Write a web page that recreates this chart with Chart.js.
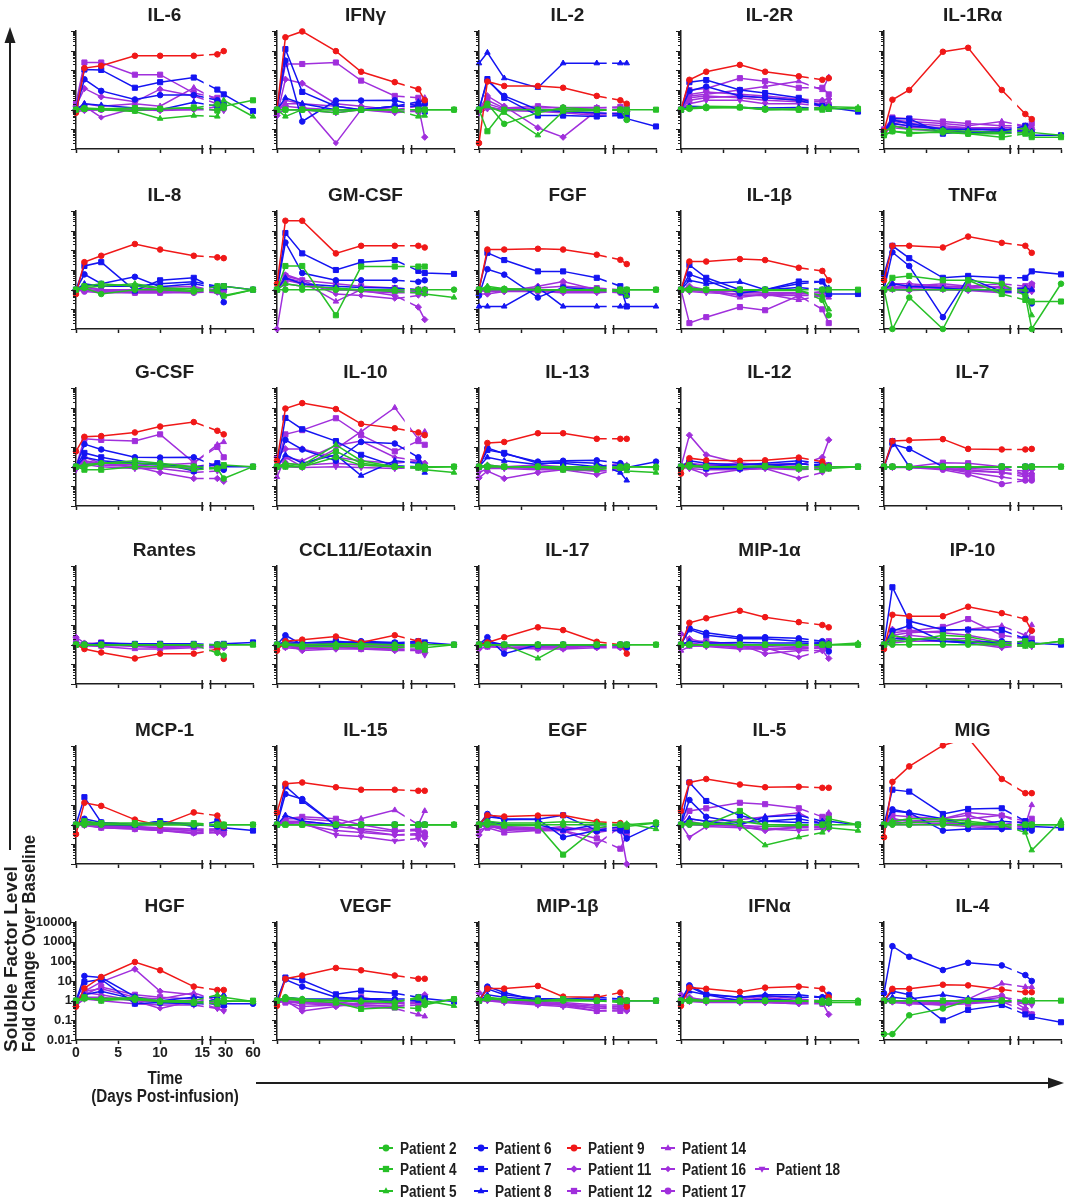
<!DOCTYPE html>
<html>
<head>
<meta charset="utf-8">
<script src="https://cdn.jsdelivr.net/npm/chart.js@4.4.1/dist/chart.umd.min.js"></script>
<style>
  body { margin: 0; background: #fff; }
  #fig { position: relative; width: 1067px; height: 1200px; background: #fff; overflow: hidden; }
  #fig canvas { position: absolute; }
  #overlay { position: absolute; left: 0; top: 0; pointer-events: none; }
</style>
</head>
<body>
<div id="fig">
  <svg id="overlay" width="1067" height="1200"></svg>
</div>
<script>
// sample days; the axis is broken after day 15
const days = [0, 1, 3, 7, 10, 14, 21, 28, 60];
const xTicks = [0, 5, 10, 15, 30, 60];

const patients = ['Patient 2', 'Patient 4', 'Patient 5', 'Patient 6', 'Patient 7', 'Patient 8', 'Patient 9',
  'Patient 11', 'Patient 12', 'Patient 14', 'Patient 16', 'Patient 17', 'Patient 18'];

const factors = ['IL-6', 'IFNγ', 'IL-2', 'IL-2R', 'IL-1Rα',
  'IL-8', 'GM-CSF', 'FGF', 'IL-1β', 'TNFα',
  'G-CSF', 'IL-10', 'IL-13', 'IL-12', 'IL-7',
  'Rantes', 'CCL11/Eotaxin', 'IL-17', 'MIP-1α', 'IP-10',
  'MCP-1', 'IL-15', 'EGF', 'IL-5', 'MIG',
  'HGF', 'VEGF', 'MIP-1β', 'IFNα', 'IL-4'];

// fold change over baseline, one row per patient (order as in `patients`), one column per day
const il6 = [
  [1, 1.2, 1.1, 0.9, 1.1, 1.2, 1.9, 1.2, null],
  [1, 1.1, 1.1, 1.2, 1.1, 1.3, 0.9, 1.5, 3],
  [1, 1.1, 1, 0.8, 0.35, 0.5, 0.45, 3, 0.45],
  [1, 35, 9, 3.3, 5.5, 5.5, 3, 2, null],
  [1, 110, 105, 13, 25, 43, 10.5, 6, 0.85],
  [1, 2, 1.7, 1.2, 1, 2.4, 1.5, 2.5, null],
  [0.7, 130, 170, 550, 550, 550, 650, 950, null],
  [1.5, 12, 4.5, 2.5, 11, 5, 2, 1.5, null],
  [2, 250, 250, 60, 60, 7, 4, 2, null],
  [1, 2, 1.5, 2, 1.5, 13, 3, 2, null],
  [1, 1.5, 0.4, 1.2, 1.1, 1, 1.4, 1.2, null],
  [1, 1, 1, 0.9, 1, 1.1, 1, 1.1, null],
  [0.8, 0.9, 1, 1, 0.9, 1, 1, 0.9, null]
];
const ifng = [
  [1, 1, 1, 1, 1, 1, null, 1, 1],
  [1, 1, 1, 1, 1, 1, 1, 1, 1],
  [1, 0.45, 1, 0.7, 1, 1, 0.45, 0.5, null],
  [1, 310, 0.25, 2.9, 2.9, 3, 1.5, 2, null],
  [1, 1200, 8, 1.5, 1, 1.5, 1.5, 0.8, null],
  [1, 4, 2, 1, 1, 1.5, 2.5, 3, null],
  [1, 4800, 9500, 950, 85, 25, 11, 3, null],
  [0.5, 35, 22, 2, 1.5, 1, 1.5, 0.04, null],
  [1, 210, 210, 250, 30, 5, 4, 2, null],
  [1, 2, 2, 1.5, 1, 1.5, 2, 4, null],
  [1, 3, 2, 0.02, 1, 1, 1, 1, null],
  [1, 1.5, 1.2, 1, 1, 0.8, 0.8, 1, null],
  [0.6, 1, 1, 0.7, 1, 0.7, 0.9, 0.8, null]
];
const il2 = [
  [1, 2, 0.19, 0.7, 1.3, 1, 1, 0.3, null],
  [1, 0.08, 1, 1, 1, 1, 1, 1, 1],
  [1, 1.5, 0.7, 0.05, 0.8, 0.9, 1, 0.7, null],
  [1, 30, 5, 1, 0.8, 0.7, 0.6, 0.6, null],
  [1, 36, 4, 0.5, 0.5, 0.45, 0.5, 0.35, 0.14],
  [230, 800, 40, 13, 230, 230, 230, 230, null],
  [0.02, 27, 16, 16, 13, 5, 3, 2, null],
  [1, 5, 1.5, 0.12, 0.04, 0.9, 1, 0.8, null],
  [1, 3, 1.2, 1.5, 1.2, 1.2, 1.4, 1.3, null],
  [1, 2, 1.1, 1.2, 1.3, 1.3, 1.2, 1, null],
  [1, 1.5, 0.9, 0.8, 0.7, 0.5, 0.6, 0.5, null],
  [1, 1.3, 1, 1, 1, 0.9, 1, 0.8, null],
  [0.7, 1.1, 1, 1, 0.8, 0.6, 0.7, 0.9, null]
];
const il2r = [
  [1, 1.1, 1.2, 1.3, 1, 1, 1.1, 1.2, null],
  [1, 1.2, 1.3, 1.3, 1.1, 1, 1, 1.1, 1.1],
  [1, 1.2, 1.5, 1.4, 1, 1.1, 1.3, 1.4, 1.3],
  [1, 9, 15, 5, 4, 3, 1.5, 1.2, null],
  [1, 25, 32, 10, 7, 4, 1.5, 1.3, 0.8],
  [1, 1.5, 1.4, 1.3, 1.2, 1.3, 1.2, 1, null],
  [1, 33, 85, 190, 85, 50, 33, 40, null],
  [1, 6, 8, 6, 5, 3.5, 3, 3.5, null],
  [1, 10, 12, 40, 28, 13, 13, 6, null],
  [1, 5, 6, 10, 15, 28, 10, 45, null],
  [1, 4, 5, 4, 3, 2.5, 2, 1.5, null],
  [1, 3, 4, 5, 4, 3, 2.5, 2, null],
  [1, 2, 3, 3, 2, 2, 1.5, 1.5, null]
];
const il1ra = [
  [0.05, 0.08, 0.07, 0.07, 0.06, 0.06, 0.07, 0.05, null],
  [0.05, 0.08, 0.06, 0.08, 0.06, 0.04, 0.06, 0.04, 0.04],
  [0.07, 0.15, 0.1, 0.09, 0.08, 0.07, 0.12, 0.07, 0.05],
  [0.07, 0.3, 0.2, 0.1, 0.07, 0.07, 0.07, 0.07, null],
  [0.08, 0.35, 0.35, 0.06, 0.08, 0.08, 0.15, 0.05, 0.05],
  [0.07, 0.2, 0.15, 0.1, 0.1, 0.1, 0.08, 0.08, null],
  [0.085, 3.2, 10, 880, 1400, 10, 0.6, 0.33, null],
  [0.08, 0.2, 0.15, 0.12, 0.12, 0.08, 0.1, 0.1, null],
  [0.1, 0.4, 0.35, 0.25, 0.2, 0.15, 0.15, 0.2, null],
  [0.1, 0.3, 0.25, 0.2, 0.15, 0.25, 0.15, 0.15, null],
  [0.08, 0.25, 0.2, 0.15, 0.12, 0.12, 0.12, 0.1, null],
  [0.08, 0.15, 0.12, 0.12, 0.1, 0.1, 0.1, 0.09, null],
  [0.07, 0.12, 0.1, 0.08, 0.08, 0.07, 0.08, 0.08, null]
];
const il8 = [
  [1, 1.2, 0.6, 1, 1, 0.8, 1, 0.5, 1],
  [1, 1.5, 2, 1.5, 1.2, 0.9, 1.5, 1.5, 1],
  [1, 1.3, 1.5, 2, 1.2, 1.1, 0.8, 0.45, 1],
  [1, 6, 2, 4.5, 1.4, 2, 1.2, 0.23, null],
  [1, 16, 25, 0.9, 3, 4, 1, 1.5, 1],
  [1, 2, 1.5, 1.5, 2, 2.5, 1.5, 1.2, null],
  [0.6, 25, 53, 210, 110, 53, 44, 40, null],
  [1, 1.5, 1, 0.8, 1, 1.2, 1, 1, null],
  [1, 1, 0.8, 0.7, 0.7, 0.8, 0.9, 1.5, null],
  [1, 1.2, 1, 1, 1.3, 1.5, 0.8, 1, null],
  [1, 0.9, 0.8, 0.8, 0.9, 0.8, 0.7, 0.9, null],
  [1, 0.8, 0.7, 0.7, 0.7, 0.7, 0.8, 0.8, null],
  [1, 1, 0.9, 0.8, 0.8, 0.7, 0.9, 0.8, null]
];
const gmcsf = [
  [1, 1, 1, 1, 1, 1, 1, 1, 1],
  [1, 16, 16, 0.05, 15, 15, 15, 15, null],
  [1, 2, 1.5, 1.2, 1, 0.8, 0.7, 0.6, 0.4],
  [1, 250, 7, 3, 3, 3, 2.5, 3, null],
  [1, 760, 70, 10, 25, 32, 9, 7, 6.3],
  [1, 4, 2, 1.5, 1.3, 1.2, 1, 1, null],
  [2, 3200, 3200, 70, 170, 170, 170, 140, null],
  [0.01, 3.5, 2, 1, 0.9, 0.5, 0.13, 0.03, null],
  [1, 5, 3, 2, 1.5, 1.2, 1, 1, null],
  [1, 4, 2.5, 0.25, 1, 0.8, 1, 0.7, null],
  [1, 6, 3, 0.6, 0.5, 0.35, 0.5, 0.6, null],
  [1, 3, 2, 1, 1, 0.9, 0.8, 0.8, null],
  [1, 2, 1.5, 1.2, 0.8, 0.7, 0.7, 0.6, null]
];
const fgf = [
  [1, 1.2, 1.1, 1, 1, 1, 1, 1, 1],
  [1, 1, 1, 1, 1, 1, 1, 1, 1],
  [1, 1.5, 1.1, 1, 1, 0.9, 0.8, 0.5, null],
  [0.5, 11, 5.8, 0.4, 1.3, 1, 0.8, 0.5, null],
  [1, 75, 32, 8.5, 8.5, 4, 1.5, 0.14, null],
  [0.14, 0.14, 0.14, 1.3, 0.14, 0.14, 0.14, 0.14, 0.14],
  [1, 110, 110, 120, 110, 60, 33, 20, null],
  [0.6, 0.6, 0.8, 1.5, 2.6, 1, 0.8, 0.6, null],
  [1, 1, 1, 1.2, 1.5, 1.2, 1, 0.8, null],
  [1, 0.8, 0.9, 0.9, 0.8, 0.8, 0.9, 0.9, null],
  [1, 1.1, 1, 0.9, 0.9, 1, 0.9, 0.8, null],
  [1, 0.9, 0.9, 0.8, 0.8, 0.8, 0.7, 0.7, null],
  [0.9, 0.8, 0.8, 0.8, 0.7, 0.7, 0.8, 0.8, null]
];
const il1b = [
  [1, 1, 1, 1, 1, 1, 0.3, 0.05, null],
  [1, 1, 1, 1, 1, 1, 1, 1, 1],
  [1, 1.2, 1, 1, 0.9, 0.9, 0.5, 0.1, null],
  [1, 6, 3, 0.65, 1, 1.3, 1, 0.6, null],
  [1, 18, 4, 1, 1, 2.6, 2.6, 0.6, 0.6],
  [1, 3, 2, 2.5, 1, 2, 2.5, 1.2, null],
  [1, 27, 27, 36, 32, 13, 9, 3, null],
  [1, 1.5, 1, 0.5, 0.5, 0.5, 0.5, 0.5, null],
  [1, 0.02, 0.04, 0.13, 0.09, 0.5, 0.1, 0.02, null],
  [1, 1.2, 0.9, 0.4, 0.6, 0.3, 0.5, 0.4, null],
  [1, 0.9, 0.8, 0.8, 0.7, 0.6, 0.8, 0.9, null],
  [1, 1, 0.9, 0.8, 0.7, 0.7, 0.7, 0.8, null],
  [1, 0.8, 0.7, 0.6, 0.6, 0.5, 0.6, 0.7, null]
];
const tnfa = [
  [1, 0.01, 0.4, 0.01, 3, 2, 0.5, 0.01, 2],
  [1, 4, 5, 3, 3, 0.6, 0.3, 0.25, 0.25],
  [1, 1, 1, 1, 1, 1, 1, 0.05, null],
  [1, 80, 16, 0.04, 4, 0.8, 0.7, 0.2, null],
  [6, 170, 40, 4, 5, 4, 4, 8.5, 6],
  [1, 2, 1.5, 1.2, 1, 1, 1.2, 1, null],
  [3, 170, 170, 140, 500, 240, 170, 75, null],
  [1, 2, 2, 1.5, 1.5, 1.2, 1.2, 2, null],
  [1, 1.5, 1.5, 2, 1.5, 2, 1.5, 1.8, null],
  [1, 1.2, 1.3, 1.5, 1.2, 1.5, 1, 1.5, null],
  [1, 1.3, 1.2, 1.3, 1.1, 0.9, 0.8, 1, null],
  [1, 1.1, 1, 1.1, 1, 0.8, 0.9, 0.9, null],
  [1, 1, 0.9, 1, 0.9, 0.7, 0.7, 0.8, null]
];
const gcsf = [
  [1, 1, 1.5, 2, 1.5, 1, 0.8, 0.25, 1],
  [1, 0.7, 0.7, 1, 1, 1, 0.8, 1.2, 1],
  [1, 1.3, 1.5, 1.5, 1.3, 0.7, 0.8, 1, null],
  [1, 14, 7.5, 3, 2.9, 3, 1, 0.7, null],
  [1, 5, 3, 1.5, 1.5, 0.6, 1.5, 1, 1],
  [1, 3, 2, 1.5, 1.2, 1, 1.2, 1, null],
  [6, 33, 36, 55, 110, 185, 67, 44, null],
  [1, 3, 1.5, 1, 0.5, 0.25, 0.25, 0.18, null],
  [1, 26, 23, 20, 44, 1.6, 10, 3, null],
  [1, 2, 1.5, 1.5, 1.2, 1.5, 13, 18, null],
  [1, 1.8, 1.5, 1.2, 1, 1, 1.5, 1, null],
  [1, 1.5, 1.2, 1, 1, 0.8, 1, 0.8, null],
  [0.7, 1.3, 1, 0.8, 0.8, 0.5, 0.6, 0.7, null]
];
const il10 = [
  [1, 1.2, 1, 3, 1.2, 1, 1, 1, 1],
  [1, 1, 1, 6, 1.5, 1, 1, 0.9, 1],
  [1, 1.5, 1.2, 13, 2, 1, 0.8, 0.7, 0.5],
  [1, 23, 7.5, 2, 18, 15, 3, 0.8, null],
  [1, 300, 80, 20, 4, 1.1, 1, 0.9, null],
  [1, 4, 1.5, 4, 0.35, 2, 1.5, 0.5, null],
  [2, 900, 1700, 850, 150, 90, 55, 40, null],
  [3, 8, 8, 3, 2, 1.5, 2, 1.5, null],
  [1, 44, 72, 290, 40, 6, 20, 13, null],
  [0.3, 3, 1, 8, 60, 1000, 25, 60, null],
  [1, 3, 2, 12, 20, 3, 2, 1.5, null],
  [1, 1.5, 1.2, 1.5, 1.2, 1, 1, 1, null],
  [1, 1, 0.9, 1, 0.9, 0.8, 0.9, 0.9, null]
];
const il13 = [
  [1, 1, 1, 1, 0.8, 0.9, 1, 1, 1],
  [1, 1, 1, 1, 0.7, 0.7, 0.9, 1, 0.9],
  [1, 1.2, 1, 1, 1, 1, 0.8, 0.6, 0.5],
  [1, 9, 4.5, 1.8, 2, 2.1, 1.5, 0.9, 1.8],
  [1, 7, 5, 1.5, 1.5, 1, 1.2, 1, null],
  [1, 3, 2, 1.3, 1.8, 1.5, 0.5, 0.2, null],
  [1, 16, 18, 50, 50, 26, 26, 26, null],
  [0.27, 0.6, 0.25, 0.5, 0.7, 0.4, 0.8, 1, null],
  [1, 1, 1, 1.2, 1, 0.8, 1, 0.9, null],
  [1, 1.2, 1, 1, 0.9, 1, 1.5, 1.2, null],
  [1, 0.9, 0.9, 0.8, 0.8, 0.6, 0.7, 0.8, null],
  [1, 1, 1, 0.9, 0.9, 0.8, 0.9, 0.9, null],
  [0.5, 0.8, 0.8, 0.7, 0.7, 0.6, 0.7, 0.7, null]
];
const il12 = [
  [1, 1, 1, 1, 1, 1, 1, 1, 1],
  [1, 1.2, 1, 1, 1.1, 0.8, 0.7, 0.8, 1],
  [1, 1.1, 1, 1, 1, 1, 1, 1, null],
  [1, 2, 1.5, 1.2, 1.5, 2, 1.5, 1, null],
  [1, 1.5, 0.8, 0.8, 1, 1.5, 1, 1, 1],
  [1, 1.2, 1, 1.3, 1.2, 1.4, 1.2, 1.1, null],
  [0.45, 2.7, 2.1, 2, 2.1, 2.9, 1.8, 1, null],
  [1, 40, 4, 1.5, 1.2, 1.2, 3, 23, null],
  [1, 1.5, 1.2, 1.5, 1.3, 1.5, 1, 1.2, null],
  [1, 1.3, 1.1, 1, 1, 0.8, 1, 1, null],
  [1, 0.8, 0.4, 0.7, 0.8, 0.25, 0.5, 0.8, null],
  [1, 1, 0.9, 0.9, 0.9, 0.8, 0.9, 0.9, null],
  [1, 0.8, 0.7, 0.7, 0.8, 0.7, 0.8, 0.8, null]
];
const il7 = [
  [1, 1, 1, 1, 1, 1, 1, 1, 1],
  [1, 1, 1, 1, 1, 1, 1, 1, 1],
  [1, 1, 1, 1, 1, 1, 1, 1, null],
  [1, 14, 8, 1, 1, 1, 1, 1, null],
  [1, 20, 1, 1, 1, 1, 1, 1, null],
  [1, 1, 1, 1, 1, 1, 1, 1, null],
  [1, 20, 22, 25, 8, 7.5, 7.5, 8, null],
  [1, 1, 1, 0.9, 0.8, 0.7, 0.6, 0.7, null],
  [1, 1, 1, 1.6, 1.5, 1, 0.4, 0.3, null],
  [1, 1, 1, 0.8, 0.6, 0.5, 0.4, 0.5, null],
  [1, 1, 0.9, 0.8, 0.5, 0.3, 0.2, 0.2, null],
  [1, 1, 0.9, 0.7, 0.4, 0.13, 0.2, 0.2, null],
  [1, 0.9, 0.9, 0.8, 0.7, 0.5, 0.3, 0.4, null]
];
const rantes = [
  [1, 1, 1, 1, 1, 1, 0.38, 0.28, null],
  [1, 1, 1, 1, 1, 1, 1, 1, 1],
  [1, 1, 1, 1, 1, 1, 1, 1, 1],
  [1, 1, 1, 1, 1, 1, 1, 1, null],
  [1, 1, 1.2, 1.1, 1.1, 1.1, 1, 1.1, 1.3],
  [1, 1, 1, 1, 1, 1, 1, 1, null],
  [1, 0.6, 0.4, 0.2, 0.35, 0.35, 0.6, 0.19, null],
  [2.4, 1.2, 1.1, 0.8, 0.7, 0.8, 0.8, 0.7, null],
  [1.5, 1, 1.3, 1, 1.1, 0.9, 1, 0.9, null],
  [1.2, 0.9, 0.8, 0.6, 0.6, 0.7, 0.7, 0.8, null],
  [1, 0.9, 0.9, 0.9, 0.8, 0.8, 0.8, 0.8, null],
  [1, 1, 0.9, 0.9, 0.9, 0.9, 0.9, 0.9, null],
  [1, 0.9, 0.9, 0.9, 0.9, 0.9, 0.8, 0.9, null]
];
const eotaxin = [
  [1, 1, 1, 1, 1, 1, 1, 1, 1],
  [1, 1, 0.8, 0.8, 0.8, 0.7, 0.8, 0.7, 1],
  [1, 1.1, 1, 1.1, 1.1, 1, 0.8, 0.5, null],
  [1, 3, 1, 1.2, 1.5, 1.3, 1.2, 1, null],
  [1, 1.5, 1.2, 1.5, 1.2, 1.2, 1.5, 1.3, 1],
  [1, 1.2, 1, 1, 1.2, 1.2, 1, 1.1, null],
  [0.5, 1.5, 1.8, 2.6, 1.3, 3, 1.5, 1, null],
  [1, 1, 0.5, 0.6, 0.6, 0.5, 0.5, 0.4, null],
  [1, 0.8, 0.7, 0.8, 0.6, 0.6, 0.5, 0.6, null],
  [1, 0.9, 0.8, 0.9, 0.8, 0.8, 0.8, 0.7, null],
  [1, 1.2, 1.2, 1.3, 1.3, 1.2, 1.2, 1, null],
  [1, 0.9, 0.9, 0.9, 0.9, 0.9, 0.9, 0.9, null],
  [1, 0.7, 0.6, 0.7, 0.7, 0.6, 0.6, 0.3, null]
];
const il17 = [
  [1, 1, 1, 1, 1, 1, 1, 1, 1],
  [1, 1, 1, 1, 1, 1, 1, 1, 1],
  [1, 1, 1, 0.2, 1, 1, 1, 1, null],
  [1, 2.4, 0.35, 1, 1, 1, 1, 0.7, null],
  [1, 1.3, 1, 0.9, 1, 0.9, 1, 1, null],
  [1, 1.5, 1, 1, 1, 1, 0.9, 0.8, null],
  [1, 1.3, 2.4, 7.6, 5.5, 1.4, 1, 0.35, null],
  [0.6, 0.8, 0.7, 0.6, 0.6, 0.7, 0.7, 0.9, null],
  [1, 0.8, 0.7, 0.7, 0.7, 0.8, 0.8, 0.8, null],
  [1, 0.9, 0.9, 0.9, 0.8, 0.9, 0.9, 0.9, null],
  [1, 0.9, 0.9, 0.8, 0.8, 0.9, 0.9, 0.9, null],
  [1, 1, 0.9, 0.9, 0.9, 0.9, 0.9, 0.9, null],
  [1, 0.9, 0.9, 0.9, 0.9, 0.9, 0.9, 0.9, null]
];
const mip1a = [
  [1, 1, 1, 1, 1, 1, 1, 1, 1],
  [1, 1, 1, 1, 1, 1, 1, 1, 1],
  [1, 1, 1, 1, 1, 1, 1, 1, 1.2],
  [1, 7, 4, 2.4, 2.4, 2.1, 1.5, 0.45, null],
  [1, 6, 3, 2, 2, 1.5, 1.3, 1, null],
  [1, 1.5, 1.2, 1.3, 1.2, 1.2, 1.1, 1.2, null],
  [1, 13, 22, 53, 25, 14, 10, 7.6, null],
  [3.5, 2, 1.2, 1, 0.35, 0.5, 0.5, 0.2, null],
  [1, 1.5, 1.5, 1, 1, 0.8, 1, 1.5, null],
  [0.5, 0.8, 0.9, 0.7, 0.6, 0.6, 0.7, 0.6, null],
  [1, 1.2, 1, 0.8, 0.7, 0.23, 0.5, 0.6, null],
  [1, 1, 0.9, 0.8, 0.8, 0.7, 0.8, 0.8, null],
  [1, 0.9, 0.8, 0.6, 0.6, 0.6, 0.7, 0.7, null]
];
const ip10 = [
  [1, 1, 1, 1, 1, 1, 1, 1, 1.5],
  [1, 1.6, 1.5, 3, 2.5, 1.2, 1.5, 1, 1.5],
  [1, 3, 2, 2, 1.5, 1, 0.8, 0.9, null],
  [1, 5, 9, 1.5, 1.2, 1.5, 1, 1.2, null],
  [1, 830, 16, 5.8, 5.8, 5.5, 2, 1.2, 1],
  [1, 2, 2, 1.5, 1.5, 1.2, 1.5, 1, null],
  [0.6, 33, 28, 28, 85, 40, 20, 5.2, null],
  [1, 6, 5, 4, 3, 1.5, 1.2, 5, null],
  [1, 4, 5, 8, 20, 3, 2, 2, null],
  [1, 3, 4, 5, 6, 9, 3, 10, null],
  [1, 2, 3, 2, 2, 1, 1.5, 1, null],
  [1, 1.5, 2, 2, 1.5, 0.8, 1, 1, null],
  [1, 1.2, 1.5, 1.5, 1.2, 0.7, 0.9, 0.8, null]
];
const mcp1 = [
  [1, 1, 1, 1, 1, 1, 1, 1, 1],
  [1, 1.5, 1.2, 1.2, 1.2, 1.2, 1, 1, 1],
  [1, 1.3, 1.1, 1, 1, 1, 0.9, 0.8, null],
  [1, 2, 1.3, 1, 1.5, 1, 0.8, 0.8, null],
  [1, 25, 1.3, 1, 1.5, 0.8, 1.5, 0.7, 0.5],
  [1, 1.5, 1, 0.9, 1.2, 1, 1, 0.9, null],
  [0.33, 13, 9, 1.8, 0.9, 4.2, 2.9, 0.8, null],
  [1, 1.8, 0.8, 0.7, 0.6, 0.5, 0.6, 0.5, null],
  [1, 1, 0.7, 0.6, 0.5, 0.4, 0.5, 0.4, null],
  [1, 1.2, 0.9, 0.8, 0.6, 0.5, 0.5, 0.5, null],
  [1, 1, 0.8, 0.7, 0.5, 0.35, 0.4, 0.3, null],
  [1, 1.1, 0.9, 0.8, 0.7, 0.6, 0.6, 0.6, null],
  [1, 0.9, 0.7, 0.6, 0.5, 0.4, 0.4, 0.35, null]
];
const il15 = [
  [1, 1, 1, 1, 1, 1, 1, 1, 1],
  [1, 1, 1, 1, 1, 1, 1, 1, 1],
  [1, 1, 1, 1, 1, 1, 1, 1, 1],
  [1, 36, 20, 0.9, 1, 1, 1, 1, null],
  [1, 90, 16, 0.9, 1, 1, 1, 1, null],
  [1, 3, 1.5, 1, 1, 1, 1, 1, null],
  [4.2, 120, 140, 80, 60, 60, 53, 53, null],
  [1, 2, 2, 1.5, 0.5, 0.3, 0.3, 0.25, null],
  [1, 2, 2.5, 2, 1, 0.5, 0.6, 0.3, null],
  [1, 1.5, 1.5, 1, 2, 5.5, 1, 5, null],
  [1, 1.2, 1, 0.5, 0.4, 0.3, 0.35, 0.2, null],
  [1, 1.5, 1.2, 0.8, 0.6, 0.45, 0.5, 0.4, null],
  [1, 1.3, 1.2, 0.3, 0.25, 0.15, 0.2, 0.1, null]
];
const egf = [
  [1, 1, 1, 1, 1, 1, 1, 1, 1.3],
  [1, 1.3, 0.9, 0.9, 0.03, 0.7, 1, 0.8, 1.2],
  [1, 1.5, 1.2, 1.2, 1.4, 1.2, 1, 1.1, 0.6],
  [1, 3.5, 1.8, 1.9, 0.23, 0.5, 0.5, 0.2, 1],
  [1, 2.5, 2, 1.9, 3, 0.5, 0.8, 0.5, null],
  [1, 1.5, 1, 1, 0.5, 1, 1, 0.8, null],
  [1, 3, 2.6, 2.9, 3, 1.4, 1.2, 0.8, null],
  [0.3, 1, 0.5, 0.6, 0.8, 0.4, 0.6, 0.01, null],
  [1, 0.7, 0.4, 0.5, 0.5, 0.2, 0.06, 0.3, null],
  [1, 1, 0.7, 0.6, 0.7, 0.5, 0.5, 0.5, null],
  [1, 0.8, 0.6, 0.5, 0.5, 0.7, 0.7, 0.6, null],
  [1, 0.9, 0.8, 0.7, 0.6, 0.6, 0.6, 0.7, null],
  [0.5, 0.8, 0.7, 0.6, 0.5, 0.1, 0.8, 0.2, null]
];
const il5 = [
  [1, 1, 1, 1.5, 1, 1, 1, 1, 1],
  [1, 1.2, 1, 5, 0.8, 0.9, 1, 2, 1],
  [1, 1.3, 1.1, 1, 0.09, 0.23, 0.4, 0.7, 0.5],
  [1, 18, 2.5, 1.2, 1.5, 2, 1.2, 1, null],
  [1, 140, 16, 2.9, 1.5, 1.3, 1.2, 1.5, 1],
  [1, 2, 1.5, 1, 2.5, 3, 1.5, 1, null],
  [5, 140, 210, 110, 80, 85, 75, 75, null],
  [1, 1.5, 1, 0.8, 0.5, 0.8, 0.8, 0.7, null],
  [1, 5, 6.8, 13, 11, 6.8, 2.5, 3, null],
  [1, 2, 1.5, 1.8, 2.5, 4, 1, 4, null],
  [1, 1.2, 1, 1, 0.6, 0.7, 0.7, 0.6, null],
  [1, 1, 0.9, 0.9, 0.8, 0.8, 0.8, 0.8, null],
  [1, 0.23, 0.8, 0.7, 0.6, 0.5, 0.6, 0.6, null]
];
const mig = [
  [1, 1, 1, 1, 1, 1, 1, 1, 1],
  [1, 1.2, 1.3, 1.5, 1.2, 1, 1, 1, 1],
  [1, 1.5, 2, 2, 1.5, 1, 0.4, 0.05, 1.6],
  [1, 6, 4, 0.5, 0.6, 0.6, 0.6, 0.5, null],
  [1, 60, 48, 3.5, 6.3, 6.8, 1.5, 0.8, 0.7],
  [1, 5, 4, 2, 1, 1.5, 1.2, 1, null],
  [0.23, 150, 920, 10700, 26000, 210, 40, 40, null],
  [1, 2, 1.5, 2, 3, 1, 1.5, 1.5, null],
  [1, 3, 2.5, 2, 4.2, 2.9, 1.5, 2, null],
  [1, 2, 1.5, 1.5, 2, 3, 1, 10, null],
  [1, 1.5, 1.2, 1.5, 1, 0.7, 0.8, 0.8, null],
  [1, 1.2, 1, 1.2, 1, 0.8, 0.9, 0.9, null],
  [1, 1, 1, 1, 0.8, 0.6, 0.7, 0.7, null]
];
const hgf = [
  [1, 1.3, 1.2, 1.1, 0.9, 0.8, 1, 1, 0.9],
  [1, 1.5, 1, 1.3, 0.9, 0.8, 0.7, 0.9, 1],
  [1, 1.2, 1.3, 1.4, 1, 1, 2, 1.5, 0.9],
  [1, 18, 15, 1.6, 0.8, 0.7, 0.7, 0.7, 0.7],
  [1, 9, 12, 0.7, 0.8, 0.7, 1.2, 0.6, null],
  [1, 2, 3, 1.2, 1, 1.5, 1.5, 2, null],
  [0.5, 4.3, 16, 92, 35, 5.2, 3.5, 3.5, null],
  [0.5, 3, 9, 40, 3, 2, 0.5, 0.5, null],
  [0.8, 2, 5, 2, 1.5, 1.2, 0.8, 0.6, null],
  [1, 3, 4, 1.5, 1.2, 2.5, 1, 0.8, null],
  [0.7, 2.5, 2, 1, 0.4, 1, 0.4, 0.3, null],
  [1, 1.5, 1.5, 1, 0.8, 0.9, 0.8, 0.7, null],
  [0.6, 1.2, 1, 0.7, 0.6, 0.6, 0.4, 0.3, null]
];
const vegf = [
  [1, 1.5, 1.2, 1, 0.9, 0.8, 1.5, 0.6, 1.2],
  [1, 1.2, 1, 0.8, 0.38, 0.46, 0.4, 0.7, 1.2],
  [1, 1.3, 1.1, 1, 1, 0.9, 1.3, 1, 0.55],
  [1, 12, 5.2, 1.5, 1.3, 1.2, 1.2, 1, null],
  [1, 15, 11, 2.1, 3.2, 2.4, 1.5, 1.3, 0.9],
  [1, 1.5, 1.2, 1.2, 1.2, 1, 1, 1.2, null],
  [0.55, 13, 19, 46, 35, 19, 13, 13, null],
  [1, 1, 0.3, 0.5, 0.8, 0.7, 0.9, 2, null],
  [1, 0.8, 0.5, 0.6, 1.5, 0.8, 0.7, 1.5, null],
  [1, 0.9, 0.7, 0.6, 0.5, 0.4, 0.2, 0.16, null],
  [1, 0.9, 0.8, 0.7, 0.6, 0.5, 0.8, 0.8, null],
  [1, 1, 0.9, 0.8, 0.7, 0.7, 0.8, 0.9, null],
  [0.8, 0.9, 0.8, 0.7, 0.6, 0.5, 0.6, 0.7, null]
];
const mip1b = [
  [1, 1.5, 1.2, 1, 1, 1, 1, 1, 1],
  [1, 1.3, 1.1, 1, 1.2, 1, 1, 1, 1],
  [1, 1.2, 1.1, 1, 1, 1, 0.8, 1, null],
  [1, 5.2, 2.6, 1, 1.1, 1.2, 1, 1, null],
  [1, 4, 2, 1.3, 1.2, 1.5, 1.2, 1, 1],
  [1, 2, 1.5, 1.1, 1.1, 1.1, 1, 1, null],
  [1, 4.1, 4.1, 5.6, 1.6, 1.5, 2.6, 0.5, null],
  [2.5, 1.5, 1, 0.8, 0.7, 0.4, 0.4, 0.3, null],
  [1, 1.2, 1, 0.7, 0.6, 0.3, 0.3, 0.4, null],
  [1, 1.1, 0.9, 0.8, 0.7, 0.5, 0.5, 0.5, null],
  [1, 1, 0.9, 0.7, 0.6, 0.4, 0.5, 0.6, null],
  [1, 1.2, 1, 0.9, 0.8, 0.6, 0.6, 0.7, null],
  [1, 1, 0.8, 0.6, 0.5, 0.3, 0.35, 0.4, null]
];
const ifna = [
  [1, 1, 1, 1, 1, 1, 1, 1, 1],
  [1, 1, 1, 1, 1, 1, 0.8, 0.8, 0.8],
  [1, 1.2, 1, 1, 1, 1, 1, 0.9, null],
  [1, 6, 2.2, 1.5, 1.8, 1.5, 1.5, 2, null],
  [1, 5, 2, 1, 1.2, 1, 1, 0.8, null],
  [1, 3, 2, 1.5, 2, 2, 1.5, 1.2, null],
  [0.55, 4.6, 4, 2.8, 4.6, 5.2, 4, 1.5, null],
  [2, 1.5, 1, 1, 0.8, 0.7, 0.8, 0.2, null],
  [1, 1.2, 1, 1, 1.5, 1, 0.7, 0.8, null],
  [1, 1.3, 1.1, 1.2, 1.8, 1.2, 1, 1, null],
  [1, 1, 0.9, 0.9, 0.9, 0.8, 0.8, 0.8, null],
  [1, 1, 1, 0.9, 0.9, 0.9, 0.9, 0.9, null],
  [1, 0.9, 0.8, 0.8, 0.8, 0.7, 0.7, 0.7, null]
];
const il4 = [
  [0.02, 0.02, 0.18, 0.4, 1, 1, null, null, null],
  [1, 1, 1, 1, 1, 1, 1, 1, 1],
  [1, 1, 1, 1, 1, 1, 1, 1, null],
  [2.4, 590, 170, 36, 84, 62, 20, 10, null],
  [1, 3.1, 2, 0.1, 0.34, 0.6, 0.2, 0.15, 0.08],
  [1, 1.5, 1.2, 2, 1.3, 1, 1, 1, null],
  [1, 4, 4, 6.5, 6, 3.7, 2.7, 2.7, null],
  [1, 1, 0.9, 0.8, 1, 1.9, 0.4, 0.2, null],
  [1, 1, 0.8, 0.6, 0.7, 0.9, 0.3, 0.2, null],
  [1, 0.9, 1, 0.8, 1.2, 7.5, 5, 5, null],
  [1, 0.8, 0.7, 0.6, 0.9, 1.5, 1, 0.8, null],
  [1, 1, 0.9, 0.9, 1, 1, 0.8, 0.8, null],
  [1, 0.9, 0.8, 0.7, 0.8, 0.9, 0.7, 0.6, null]
];

const levels = [il6, ifng, il2, il2r, il1ra, il8, gmcsf, fgf, il1b, tnfa,
  gcsf, il10, il13, il12, il7, rantes, eotaxin, il17, mip1a, ip10,
  mcp1, il15, egf, il5, mig, hgf, vegf, mip1b, ifna, il4];

// look of each patient
const GREEN = '#27c027', BLUE = '#1414f2', RED = '#f01818', PURPLE = '#a02fdc';
const colors = [GREEN, GREEN, GREEN, BLUE, BLUE, BLUE, RED, PURPLE, PURPLE, PURPLE, PURPLE, PURPLE, PURPLE];
const shapes = ['circle', 'rect', 'triangle', 'circle', 'rect', 'triangle', 'circle',
  'rectRot', 'rect', 'triangle', 'rectRot', 'circle', 'triangle'];
const radii = [2.8, 3.6, 3.2, 2.8, 3.6, 3.2, 2.8, 3.2, 3.6, 3.2, 2.6, 2.8, 3.2];
const layer = [0, 0, 0, 2, 2, 2, 1, 3, 3, 3, 3, 3, 3];

// legend and time labels are a condensed Arial; squeeze Liberation Sans to match
const FONT = '"Liberation Sans", Arial, sans-serif';
const SQUEEZE = 0.8;
const INK = '#1e1e1e';

// panel grid
const colLeft = [76, 277, 479, 681, 884];
const rowTop = [31, 211, 388, 566, 746, 922];
const plotW = 177, plotH = 118;

// broken time axis: 0-15 days at full scale, gap, then 30/60 compressed
function xPos(d) {
  return d <= 15 ? d : 17.78 + (d - 30) * 0.1087;
}

function isDecade(v) {
  const l = Math.log10(v);
  return Math.abs(l - Math.round(l)) < 1e-6;
}

const panelDecor = {
  id: 'panelDecor',
  afterDatasetsDraw(chart, args, opts) {
    const { ctx, chartArea: a, scales: { x, y } } = chart;
    ctx.save();
    // gap in the time axis
    const g0 = x.getPixelForValue(15), g1 = x.getPixelForValue(16);
    ctx.fillStyle = '#fff';
    ctx.fillRect(g0 + 1.5, a.top - 6, g1 - g0 - 3, a.bottom - a.top + 8);
    ctx.strokeStyle = INK;
    ctx.lineWidth = 1.5;
    ctx.beginPath();
    [g0, g1].forEach(px => { ctx.moveTo(px, a.bottom - 4); ctx.lineTo(px, a.bottom + 5); });
    ctx.stroke();
    // log ticks, long at each decade
    ctx.lineWidth = 1;
    ctx.beginPath();
    for (let e = -2; e <= 4; e++) {
      for (let m = 1; m <= 9; m++) {
        const v = m * Math.pow(10, e);
        if (v > 10000) break;
        const py = Math.round(y.getPixelForValue(v)) + 0.5;
        const len = m === 1 ? 5 : 3;
        ctx.moveTo(a.left - len, py);
        ctx.lineTo(a.left, py);
      }
    }
    ctx.stroke();
    // panel title
    ctx.fillStyle = INK;
    ctx.font = 'bold 19px ' + FONT;
    ctx.textAlign = 'center';
    ctx.textBaseline = 'alphabetic';
    ctx.fillText(opts.title, (a.left + a.right) / 2, a.top - 10);
    ctx.restore();
  }
};

const fig = document.getElementById('fig');
const overlay = document.getElementById('overlay');

levels.forEach((rows, i) => {
  const row = Math.floor(i / 5), col = i % 5;
  const labelled = i === 25;
  const yw = labelled ? 46 : 8;
  const xh = labelled ? 22 : 8;
  const w = yw + plotW + 12, h = 30 + plotH + xh;

  const canvas = document.createElement('canvas');
  canvas.width = w;
  canvas.height = h;
  canvas.style.left = (colLeft[col] - yw) + 'px';
  canvas.style.top = (rowTop[row] - 30) + 'px';
  canvas.style.width = w + 'px';
  canvas.style.height = h + 'px';
  fig.insertBefore(canvas, overlay);

  const datasets = rows.map((vals, p) => ({
    label: patients[p],
    data: days.map((d, k) => ({ x: xPos(d), y: vals[k] })),
    borderColor: colors[p],
    backgroundColor: colors[p],
    borderWidth: 1.5,
    pointStyle: shapes[p],
    pointRadius: radii[p],
    pointRotation: p === 12 ? 180 : 0,
    pointBorderWidth: 1,
    order: layer[p],
    clip: { left: 6, right: 6, top: 3, bottom: 6 }
  }));

  new Chart(canvas, {
    type: 'line',
    data: { datasets },
    plugins: [panelDecor],
    options: {
      responsive: false,
      animation: false,
      events: [],
      layout: { padding: { top: 30, right: 12, left: 0, bottom: 0 }, autoPadding: false },
      plugins: {
        legend: { display: false },
        tooltip: { enabled: false },
        panelDecor: { title: factors[i] }
      },
      scales: {
        x: {
          type: 'linear',
          min: 0,
          max: xPos(60),
          afterFit: s => { s.height = xh; },
          afterBuildTicks: s => { s.ticks = xTicks.map(d => ({ value: xPos(d) })); },
          grid: { drawOnChartArea: false, tickLength: 4, tickColor: INK, tickWidth: 1.5 },
          border: { color: INK, width: 1.5 },
          ticks: {
            display: labelled,
            autoSkip: false,
            maxRotation: 0,
            padding: 1,
            color: INK,
            font: { family: FONT, size: 14, weight: 'bold' },
            callback: (v, idx) => String(xTicks[idx])
          }
        },
        y: {
          type: 'logarithmic',
          min: 0.01,
          max: 10000,
          afterFit: s => { s.width = yw; },
          grid: { display: false, drawTicks: false },
          border: { color: INK, width: 1.5 },
          ticks: {
            display: labelled,
            autoSkip: false,
            padding: 4,
            color: INK,
            font: { family: FONT, size: 13, weight: 'bold' },
            callback: v => isDecade(v) ? String(+v.toPrecision(1)) : ''
          }
        }
      }
    }
  });
});

// figure-level axis titles, arrows and legend
const SVGNS = 'http://www.w3.org/2000/svg';
function svgEl(tag, attrs, text) {
  const el = document.createElementNS(SVGNS, tag);
  Object.entries(attrs).forEach(([k, v]) => el.setAttribute(k, v));
  if (text !== undefined) el.textContent = text;
  overlay.appendChild(el);
  return el;
}
function label(x, y, size, text, anchor) {
  return svgEl('text', { transform: `translate(${x},${y}) scale(${SQUEEZE},1)`, 'text-anchor': anchor || 'start',
    'font-family': FONT, 'font-size': size, 'font-weight': 'bold', fill: INK }, text);
}

// y arrow and title
svgEl('line', { x1: 10, y1: 850, x2: 10, y2: 40, stroke: INK, 'stroke-width': 2 });
svgEl('polygon', { points: '10,27 4.5,43 15.5,43', fill: INK });
svgEl('text', { transform: 'translate(17,1052) rotate(-90)', 'font-family': FONT,
  'font-size': 19, 'font-weight': 'bold', fill: INK }, 'Soluble Factor Level');
svgEl('text', { transform: 'translate(35,1052) rotate(-90) scale(0.88,1)', 'font-family': FONT,
  'font-size': 19, 'font-weight': 'bold', fill: INK }, 'Fold Change Over Baseline');

// x arrow and title
svgEl('line', { x1: 256, y1: 1083, x2: 1052, y2: 1083, stroke: INK, 'stroke-width': 2 });
svgEl('polygon', { points: '1064,1083 1048,1077.5 1048,1088.5', fill: INK });
label(165, 1084, 19, 'Time', 'middle');
label(165, 1102, 19, '(Days Post-infusion)', 'middle');

// legend
const legendX = [386, 481, 574, 668, 762];
const legendY = [1148, 1169, 1191];
const legendSlots = [[0, 0], [0, 1], [0, 2], [1, 0], [1, 1], [1, 2], [2, 0], [2, 1], [2, 2],
  [3, 0], [3, 1], [3, 2], [4, 1]];

function marker(shape, cx, cy, r, color, flip) {
  if (shape === 'circle') return svgEl('circle', { cx, cy, r, fill: color });
  if (shape === 'rect') return svgEl('rect', { x: cx - r * 0.75, y: cy - r * 0.75, width: r * 1.5, height: r * 1.5, fill: color });
  if (shape === 'rectRot') return svgEl('polygon', { points: `${cx},${cy - r} ${cx + r},${cy} ${cx},${cy + r} ${cx - r},${cy}`, fill: color });
  const s = flip ? -1 : 1;
  return svgEl('polygon', { points: `${cx},${cy - r * s} ${cx + r * 0.9},${cy + r * 0.6 * s} ${cx - r * 0.9},${cy + r * 0.6 * s}`, fill: color });
}

patients.forEach((name, p) => {
  const [c, r] = legendSlots[p];
  const cx = legendX[c], cy = legendY[r];
  svgEl('line', { x1: cx - 7, y1: cy, x2: cx + 7, y2: cy, stroke: colors[p], 'stroke-width': 2 });
  marker(shapes[p], cx, cy, radii[p] + 0.6, colors[p], p === 12);
  label(cx + 14, cy + 6, 17, name);
});
</script>
</body>
</html>
